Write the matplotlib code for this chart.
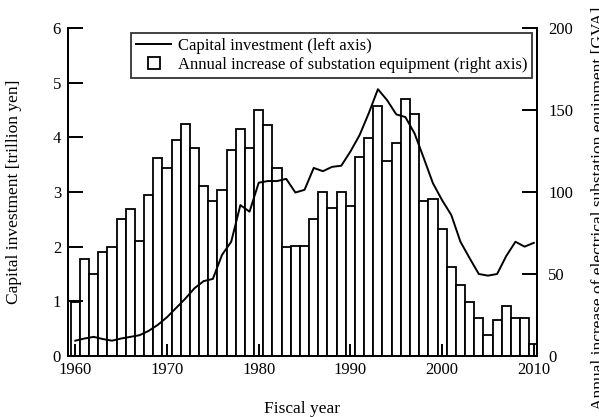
import matplotlib.pyplot as plt
from matplotlib.lines import Line2D

plt.rcParams['font.family'] = ['Liberation Serif', 'DejaVu Serif']
plt.rcParams['font.size'] = 12

years = list(range(1960, 2011))

# capital investment, trillion yen (left axis)
investment = [0.28, 0.32, 0.35, 0.31, 0.28, 0.32, 0.35, 0.38, 0.46, 0.57,
              0.71, 0.88, 1.05, 1.24, 1.37, 1.41, 1.85, 2.09, 2.76, 2.64,
              3.17, 3.20, 3.20, 3.24, 2.99, 3.04, 3.44, 3.38, 3.46, 3.48,
              3.74, 4.04, 4.44, 4.88, 4.68, 4.42, 4.37, 4.07, 3.62, 3.16,
              2.85, 2.58, 2.09, 1.79, 1.50, 1.47, 1.50, 1.83, 2.09, 2.00,
              2.07]

# annual increase of substation equipment (right axis)
substation = [33, 59.3, 50, 63.6, 66.3, 83.3, 89.4, 70.3, 98.4, 120.5,
              114.8, 131.7, 141.5, 126.8, 103.7, 94.5, 101.2, 125.6, 138.6, 127.0,
              150, 140.7, 114.8, 66.3, 67, 67, 83.3, 100.2, 90.4, 100.2,
              91.7, 121.5, 132.7, 152.4, 118.7, 129.7, 156.5, 147.4, 94.5, 95.5,
              77.2, 54.1, 43.3, 32.9, 23.4, 12.8, 22, 30.7, 23.4, 23.4,
              7.3]

fig = plt.figure(figsize=(5.99, 4.17), dpi=100)
ax = fig.add_axes([0.1135, 0.1463, 0.783, 0.7866])
ax2 = ax.twinx()

ax2.bar(years, substation, width=1.0, color='white', edgecolor='black', linewidth=1.3)
ax.plot(years, investment, color='black', linewidth=1.4)

# line above the bars
ax.set_zorder(ax2.get_zorder() + 1)
ax.patch.set_visible(False)

ax.set_xlim(1959.2, 2010.35)
ax.set_ylim(0, 6)
ax2.set_ylim(0, 200)
ax.set_xticks(range(1960, 2011, 10))
ax.set_yticks(range(0, 7))
ax2.set_yticks(range(0, 201, 50))

for a in (ax, ax2):
    a.spines['top'].set_visible(False)
    for s in ('left', 'right', 'bottom'):
        a.spines[s].set_linewidth(1.4)
ax.tick_params(axis='y', direction='in', length=11, width=1.4, pad=5, labelsize=12)
ax.tick_params(axis='x', direction='in', length=9, width=1.4, pad=4, labelsize=12)
ax2.tick_params(axis='y', direction='in', length=11, width=1.4, pad=8, labelsize=12)

ax.set_ylabel('Capital investment [trillion yen]', fontsize=12.5, labelpad=22)
ax.set_xlabel('Fiscal year', fontsize=12.5, labelpad=17)

fig.text(0.987, 0.5, 'Annual increase of electrical substation equipment [GVA]',
         rotation=90, ha='left', va='center', fontsize=12.5)

handles = [Line2D([], [], color='black', linewidth=1.4),
           Line2D([], [], linestyle='none', marker='s', markersize=9,
                  markerfacecolor='white', markeredgecolor='black', markeredgewidth=1.3)]
labels = ['Capital investment (left axis)',
          'Annual increase of substation equipment (right axis)']
leg = ax.legend(handles, labels, loc='upper right', bbox_to_anchor=(0.99, 0.985),
                borderaxespad=0, frameon=True, fancybox=False, edgecolor='black',
                handlelength=2.1, handletextpad=0.4, labelspacing=0.2, fontsize=12,
                borderpad=0.3)
leg.get_frame().set_linewidth(1.3)

fig.savefig('out.png', dpi=100)
